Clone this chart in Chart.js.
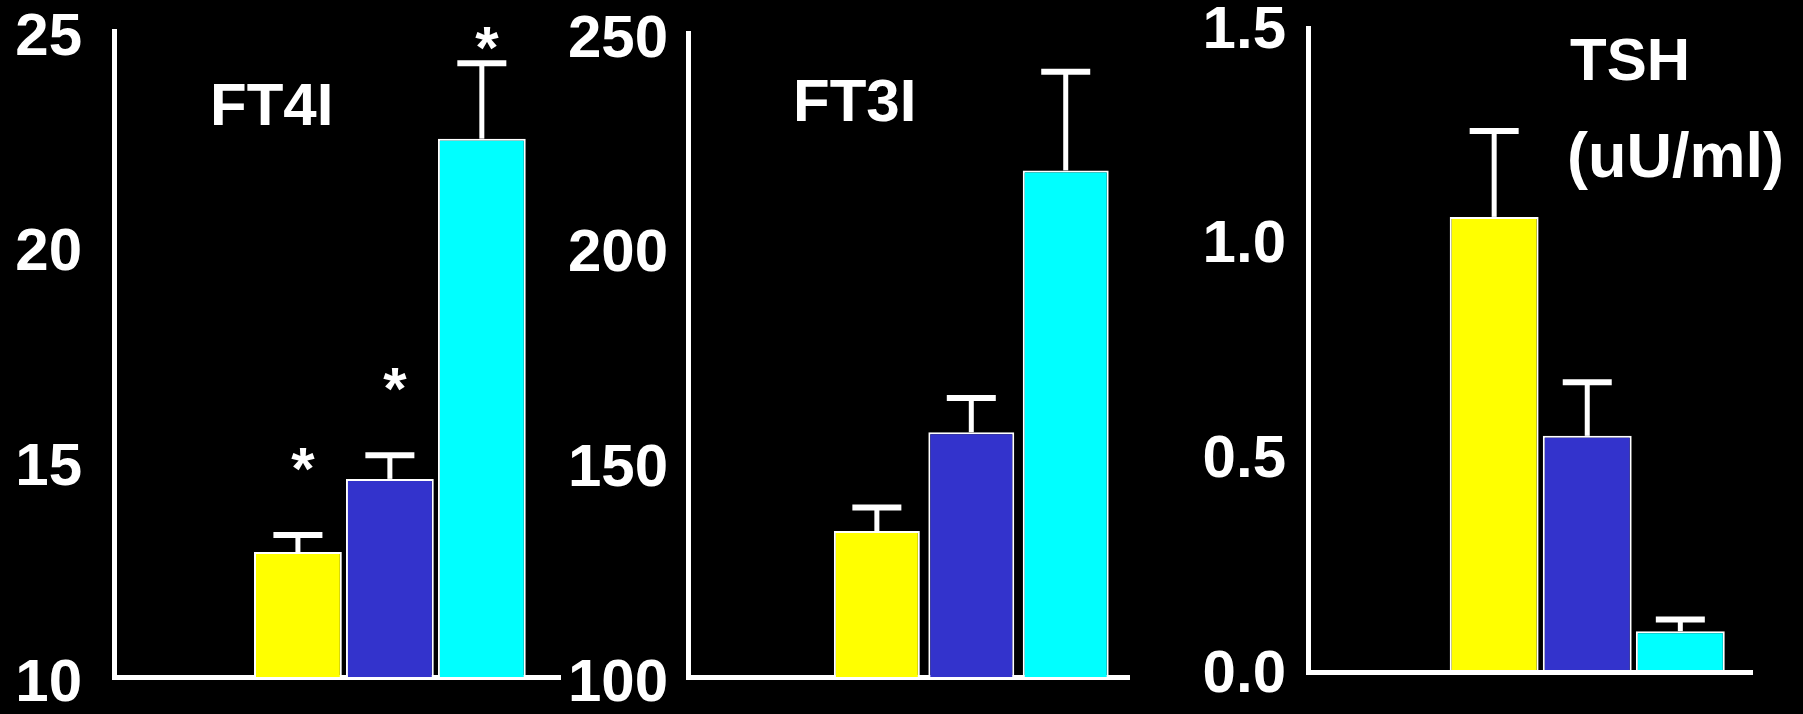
<!DOCTYPE html>
<html>
<head>
<meta charset="utf-8">
<script src="https://cdn.jsdelivr.net/npm/chart.js@4.4.1/dist/chart.umd.min.js"></script>
<style>
  html, body { margin: 0; padding: 0; background: #000; width: 1803px; height: 714px; overflow: hidden; }
  canvas { position: absolute; top: 0; }
</style>
</head>
<body>
<canvas id="ft4" width="600" height="714" style="left:0px"></canvas>
<canvas id="ft3" width="600" height="714" style="left:560px"></canvas>
<canvas id="tsh" width="623" height="714" style="left:1180px"></canvas>
<script>
// Group colours, in drawing order
const barColors = ['#ffff00', '#3333cc', '#00ffff'];

// Free T4 index
const ft4Values = [12.9, 14.6, 22.5];
const ft4Errors = [0.4, 0.55, 1.75];
const ft4Stars = [true, true, true];
const ft4Ticks = [10, 15, 20, 25];
const ft4TickLabels = ['10', '15', '20', '25'];

// Free T3 index
const ft3Values = [134, 157, 218];
const ft3Errors = [5.5, 8, 23];
const ft3Stars = [false, false, false];
const ft3Ticks = [100, 150, 200, 250];
const ft3TickLabels = ['100', '150', '200', '250'];

// TSH (uU/ml)
const tshValues = [1.06, 0.55, 0.095];
const tshErrors = [0.2, 0.125, 0.027];
const tshStars = [false, false, false];
const tshTicks = [0, 0.5, 1.0, 1.5];
const tshTickLabels = ['0.0', '0.5', '1.0', '1.5'];

const FONT = "'Liberation Sans', Arial, Helvetica, sans-serif";

// Error bars (upper whisker with cap), significance stars and panel headings
const panelDecor = {
  id: 'panelDecor',
  afterDatasetsDraw(chart, args, opts) {
    const ctx = chart.ctx;
    const meta = chart.getDatasetMeta(0);
    const yScale = chart.scales.y;
    const area = chart.chartArea;
    ctx.save();
    ctx.strokeStyle = '#ffffff';
    ctx.fillStyle = '#ffffff';
    ctx.lineCap = 'butt';
    meta.data.forEach((bar, i) => {
      const capY = yScale.getPixelForValue(opts.values[i] + opts.errors[i]);
      ctx.lineWidth = 5;
      ctx.beginPath();
      ctx.moveTo(bar.x, bar.y);
      ctx.lineTo(bar.x, capY);
      ctx.stroke();
      ctx.lineWidth = 6;
      ctx.beginPath();
      ctx.moveTo(bar.x - 24.5, capY);
      ctx.lineTo(bar.x + 24.5, capY);
      ctx.stroke();
      if (opts.stars[i]) {
        ctx.font = 'bold 60px ' + FONT;
        ctx.textAlign = 'center';
        ctx.textBaseline = 'alphabetic';
        const cy = Math.max(capY - 80, area.top + 3);
        ctx.fillText('*', bar.x + 5, cy + 34);
      }
    });
    ctx.textAlign = 'left';
    ctx.textBaseline = 'alphabetic';
    opts.headings.forEach(h => {
      ctx.font = 'bold ' + h.size + 'px ' + FONT;
      ctx.fillText(h.text, h.x, h.y);
    });
    ctx.restore();
  }
};

function makePanel(id, cfg) {
  return new Chart(document.getElementById(id), {
    type: 'bar',
    data: {
      datasets: [{
        // two empty slots precede the three groups on the x axis
        data: cfg.values.map((v, i) => ({ x: i + 2, y: v })),
        backgroundColor: barColors,
        borderColor: '#ffffff',
        borderWidth: 2,
        borderSkipped: false,
        barPercentage: cfg.barPct,
        categoryPercentage: 1
      }]
    },
    options: {
      responsive: false,
      animation: false,
      events: [],
      layout: { padding: { left: 0, top: cfg.top, right: cfg.right, bottom: 714 - cfg.bottom } },
      plugins: {
        legend: { display: false },
        tooltip: { enabled: false },
        panelDecor: { values: cfg.values, errors: cfg.errors, stars: cfg.stars, headings: cfg.headings }
      },
      scales: {
        x: {
          type: 'linear',
          min: 0,
          max: cfg.xMax,
          offset: false,
          z: 1,
          grid: { display: false, drawTicks: false },
          ticks: { display: false, stepSize: 1 },
          border: { color: '#ffffff', width: 5 },
          // keep whole-number slots only, so bar widths follow the slot spacing
          afterBuildTicks(s) { s.ticks = s.ticks.filter(t => Number.isInteger(t.value)); },
          afterFit(s) { s.height = 0; s.paddingLeft = 0; s.paddingRight = 0; }
        },
        y: {
          type: 'linear',
          min: cfg.ticks[0],
          max: cfg.ticks[cfg.ticks.length - 1],
          grid: { display: false, drawTicks: false },
          border: { color: '#ffffff', width: 5 },
          afterBuildTicks(s) { s.ticks = cfg.ticks.map(v => ({ value: v })); },
          ticks: {
            color: '#ffffff',
            font: { family: FONT, size: 60, weight: 'bold', lineHeight: 1 },
            padding: cfg.tickPad,
            labelOffset: cfg.labelOffset,
            autoSkip: false,
            callback: (v, i) => cfg.tickLabels[i]
          },
          afterFit(s) { s.width = cfg.axisLeft; s.paddingTop = 0; s.paddingBottom = 0; }
        }
      }
    },
    plugins: [panelDecor]
  });
}

makePanel('ft4', {
  values: ft4Values, errors: ft4Errors, stars: ft4Stars,
  ticks: ft4Ticks, tickLabels: ft4TickLabels,
  axisLeft: 114, top: 31, bottom: 677, right: 40, xMax: 4.85, barPct: 0.955,
  tickPad: 32, labelOffset: 7,
  headings: [{ text: 'FT4I', x: 210, y: 125, size: 60 }]
});

makePanel('ft3', {
  values: ft3Values, errors: ft3Errors, stars: ft3Stars,
  ticks: ft3Ticks, tickLabels: ft3TickLabels,
  axisLeft: 128, top: 33, bottom: 677, right: 31, xMax: 4.67, barPct: 0.91,
  tickPad: 20, labelOffset: 7,
  headings: [{ text: 'FT3I', x: 233, y: 121, size: 60 }]
});

makePanel('tsh', {
  values: tshValues, errors: tshErrors, stars: tshStars,
  ticks: tshTicks, tickLabels: tshTickLabels,
  axisLeft: 128, top: 28, bottom: 672, right: 51, xMax: 4.77, barPct: 0.955,
  tickPad: 22, labelOffset: 3,
  headings: [
    { text: 'TSH', x: 390, y: 80, size: 60 },
    { text: '(uU/ml)', x: 387, y: 177, size: 63 }
  ]
});
</script>
</body>
</html>
